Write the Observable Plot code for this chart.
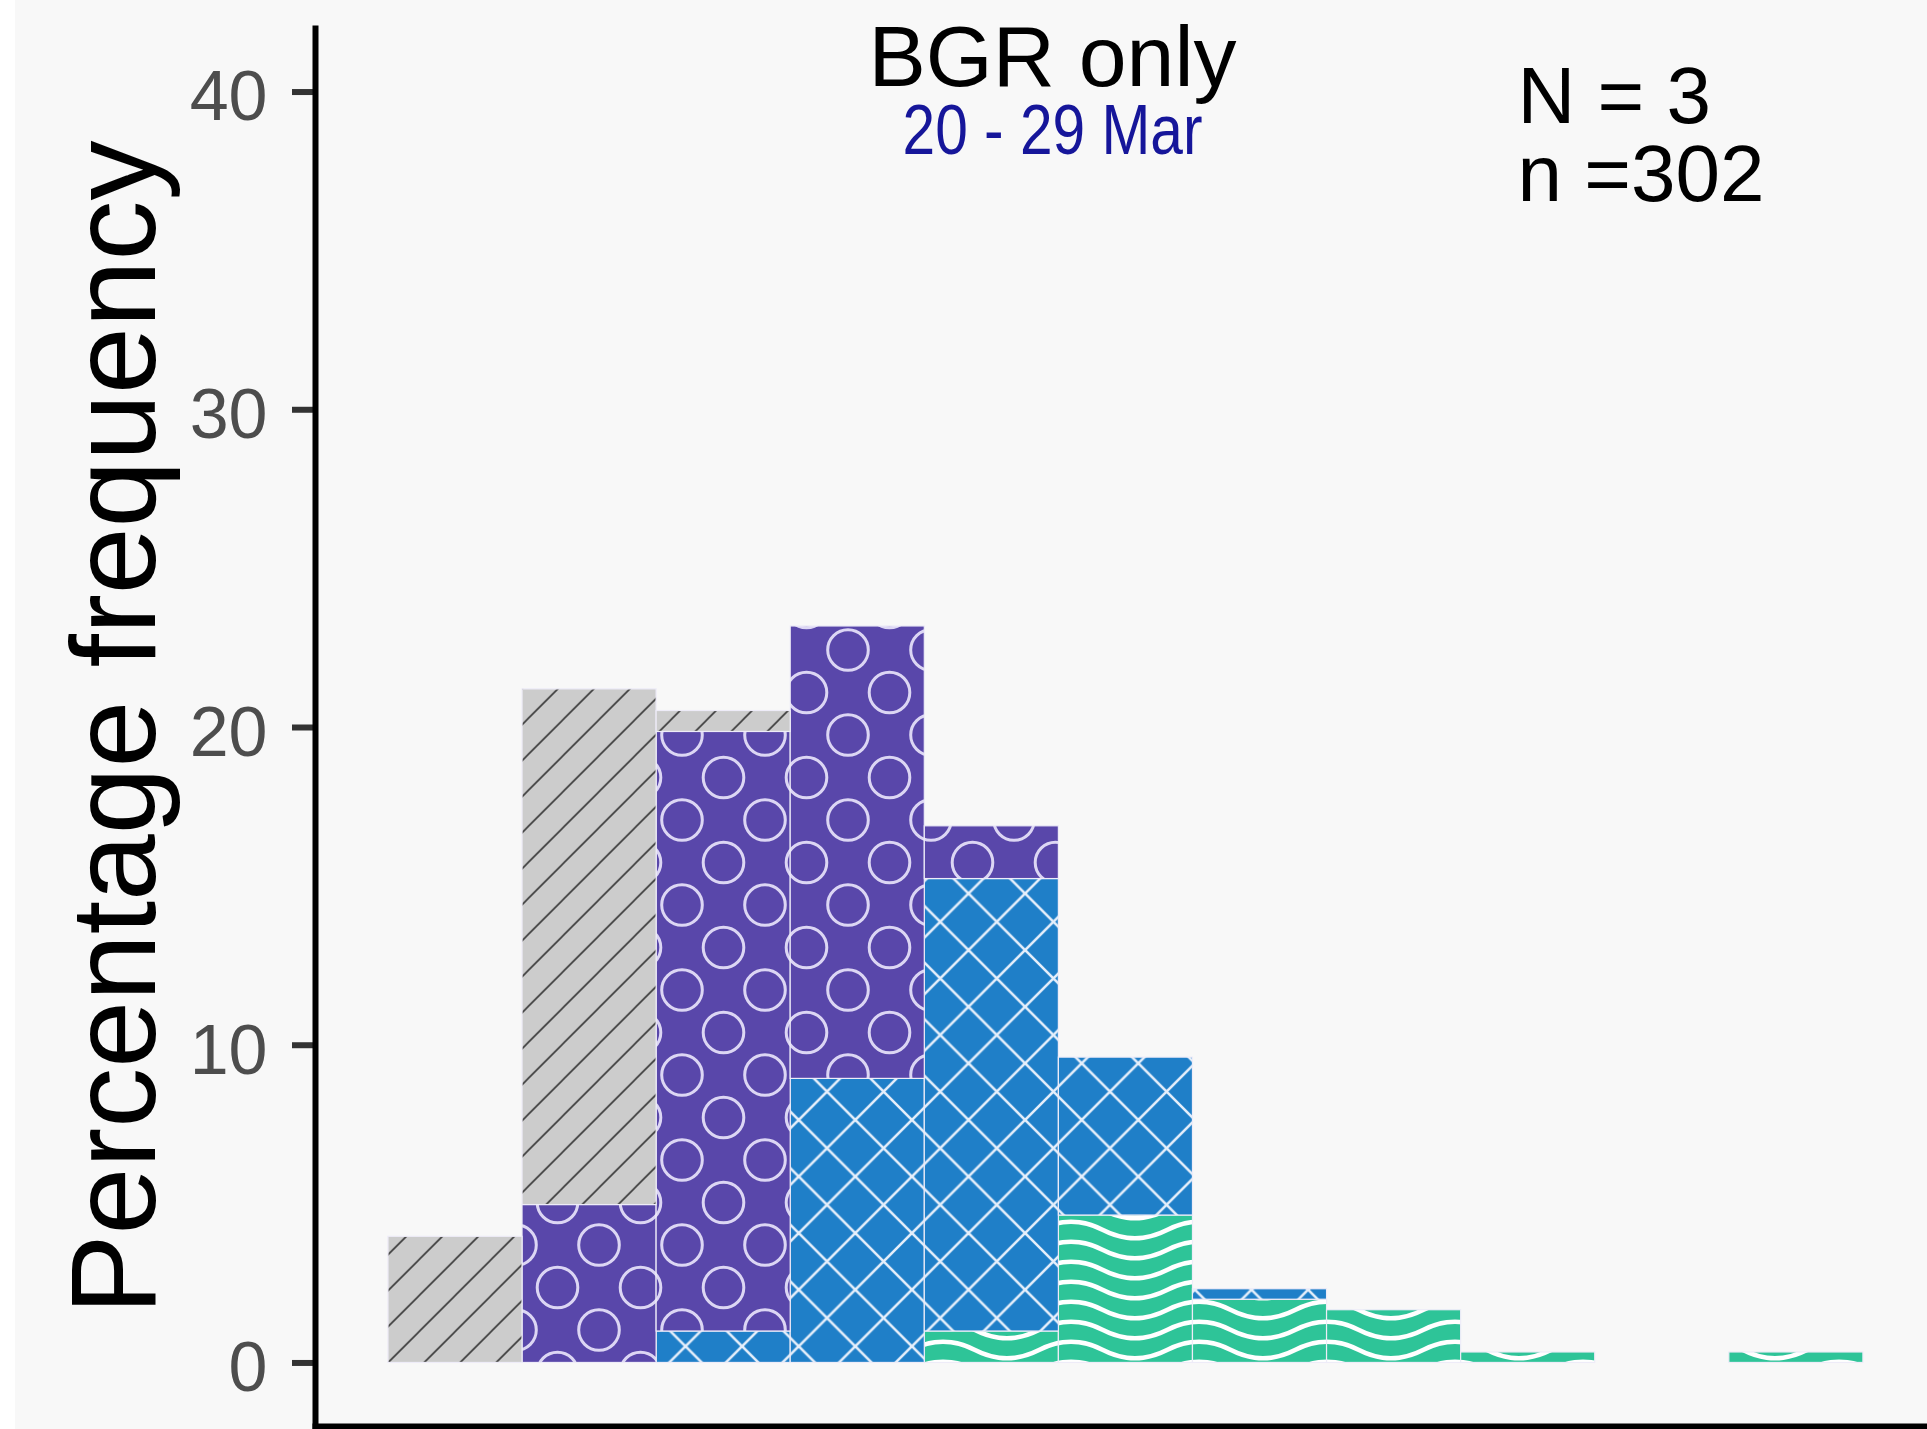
<!DOCTYPE html>
<html>
<head>
<meta charset="utf-8">
<script src="https://cdn.jsdelivr.net/npm/d3@7"></script>
<script src="https://cdn.jsdelivr.net/npm/@observablehq/plot@0.6"></script>
<style>
  html, body { margin: 0; padding: 0; background: #ffffff; }
  #chart { margin-left: 15px; width: 1912px; height: 1429px; background: #f8f8f8; overflow: hidden; }
</style>
</head>
<body>
<div id="chart"></div>
<script>
// ---- data (percent of n = 302 per bin) ----
const binIndex = [0, 1, 2, 3, 4, 5, 6, 7, 8, 9, 10];
const binEdges = [0, 1, 2, 3, 4, 5, 6, 7, 8, 9, 10, 11];
const seriesNames = ["green", "blue", "purple", "grey"]; // bottom to top of each stack
const greenValues  = [0, 0, 0, 0, 0.99, 4.64, 1.99, 1.66, 0.33, 0, 0.33];
const blueValues   = [0, 0, 0.99, 8.94, 14.24, 4.97, 0.33, 0, 0, 0, 0];
const purpleValues = [0, 4.97, 18.87, 14.24, 1.66, 0, 0, 0, 0, 0, 0];
const greyValues   = [3.97, 16.23, 0.66, 0, 0, 0, 0, 0, 0, 0, 0];
const yTicks = [0, 10, 20, 30, 40];
const titleText = "BGR only";
const subtitleText = "20 - 29 Mar";
const countText = "N = 3\nn =302";
const yLabel = "Percentage frequency";

// ---- build table ----
const valuesBySeries = { green: greenValues, blue: blueValues, purple: purpleValues, grey: greyValues };
const rows = [];
seriesNames.forEach(s => {
  binIndex.forEach((b, i) => {
    const v = valuesBySeries[s][i];
    if (v > 0) rows.push({ lo: binEdges[i], hi: binEdges[i + 1], series: s, value: v });
  });
});
const patternFill = {
  grey: "url(#pat-grey)",
  purple: "url(#pat-purple)",
  blue: "url(#pat-blue)",
  green: "url(#pat-green)"
};

const FONT = "'Liberation Sans', Arial, Helvetica, sans-serif";

const svg = Plot.plot({
  width: 1912,
  height: 1429,
  marginLeft: 300,
  marginRight: 0,
  marginTop: 28,
  marginBottom: 3,
  style: { background: "#f8f8f8", fontFamily: FONT, overflow: "hidden" },
  x: { domain: [-0.544, 11.478] },
  y: { domain: [-2, 42] },
  color: { type: "identity" },
  marks: [
    Plot.rectY(rows, {
      x1: "lo", x2: "hi", y: "value", z: "series", order: seriesNames,
      fill: d => patternFill[d.series],
      stroke: "#eeecf8", strokeWidth: 1.2
    }),
    Plot.axisY({ ticks: yTicks, tickSize: 23, stroke: "#333333", strokeWidth: 6, tickFormat: () => "", label: null }),
    Plot.axisY({ ticks: yTicks, tickSize: 0, tickPadding: 48, fontSize: 70, fill: "#4d4d4d", dy: 6, label: null }),
    Plot.axisX({ ticks: binEdges, tickSize: 10, stroke: "#333333", strokeWidth: 6, tickFormat: () => "", label: null }),
    Plot.frame({ anchor: "left", stroke: "#000000", strokeWidth: 6, strokeLinecap: "square" }),
    Plot.frame({ anchor: "bottom", stroke: "#000000", strokeWidth: 6, strokeLinecap: "square" }),
    Plot.text([titleText], { text: d => d, frameAnchor: "top", textAnchor: "middle", lineAnchor: "bottom", fontSize: 86, fill: "#000000", dx: -69, dy: 57 }),
    Plot.text([subtitleText], { text: d => d, frameAnchor: "top", textAnchor: "middle", lineAnchor: "bottom", fontSize: 70, fill: "#16169a", dx: -69, dy: 125 }),
    Plot.text([countText], { text: d => d, frameAnchor: "top-right", textAnchor: "start", lineAnchor: "bottom", lineHeight: 0.975, fontSize: 80, fill: "#000000", dx: -410, dy: 172 }),
    Plot.text([yLabel], { text: d => d, frameAnchor: "left", textAnchor: "middle", rotate: -90, lineAnchor: "bottom", fontSize: 120, fill: "#000000", dx: -161 })
  ]
});

// ---- pattern definitions ----
const defs = d3.select(svg).insert("defs", ":first-child");

const pg = defs.append("pattern").attr("id", "pat-grey").attr("patternUnits", "userSpaceOnUse")
  .attr("width", 36).attr("height", 36).attr("x", 7.7).attr("y", 0);
pg.append("rect").attr("width", 36).attr("height", 36).attr("fill", "#cccccc");
pg.append("path").attr("d", "M-9,9 L9,-9 M-2,38 L38,-2 M27,45 L45,27")
  .attr("stroke", "#3a3a3a").attr("stroke-width", 1.6).attr("fill", "none");

const pp = defs.append("pattern").attr("id", "pat-purple").attr("patternUnits", "userSpaceOnUse")
  .attr("width", 83).attr("height", 85).attr("x", 3).attr("y", 55);
pp.append("rect").attr("width", 83).attr("height", 85).attr("fill", "#5947aa");
[[0, 0], [83, 0], [0, 85], [83, 85], [41.5, 42.5]].forEach(([cx, cy]) => {
  pp.append("circle").attr("cx", cx).attr("cy", cy).attr("r", 20.3)
    .attr("fill", "none").attr("stroke", "#dcd6f4").attr("stroke-width", 3);
});

const pb = defs.append("pattern").attr("id", "pat-blue").attr("patternUnits", "userSpaceOnUse")
  .attr("width", 56.6).attr("height", 56.6).attr("x", 47.9).attr("y", 44.5);
pb.append("rect").attr("width", 56.6).attr("height", 56.6).attr("fill", "#1f7fc8");
pb.append("path").attr("d", "M-5,-5 L61.6,61.6 M61.6,-5 L-5,61.6")
  .attr("stroke", "#e6effb").attr("stroke-width", 2.6).attr("fill", "none");

const pn = defs.append("pattern").attr("id", "pat-green").attr("patternUnits", "userSpaceOnUse")
  .attr("width", 128).attr("height", 20);
pn.append("rect").attr("width", 128).attr("height", 20).attr("fill", "#2ec498");
const wave = "C-42.7,21 -21.3,21 0,10 C21.3,-1 42.7,-1 64,10 C85.3,21 106.7,21 128,10 C149.3,-1 170.7,-1 192,10";
[-20, 0, 20].forEach(off => {
  pn.append("path").attr("d", "M-64,10 " + wave).attr("transform", `translate(0,${off})`)
    .attr("stroke", "#ffffff").attr("stroke-width", 4.6).attr("fill", "none");
});

// condensed subtitle face
d3.select(svg).selectAll("text").filter(function () { return this.textContent === subtitleText; })
  .attr("textLength", 300).attr("lengthAdjust", "spacingAndGlyphs");

document.getElementById("chart").appendChild(svg);
</script>
</body>
</html>
